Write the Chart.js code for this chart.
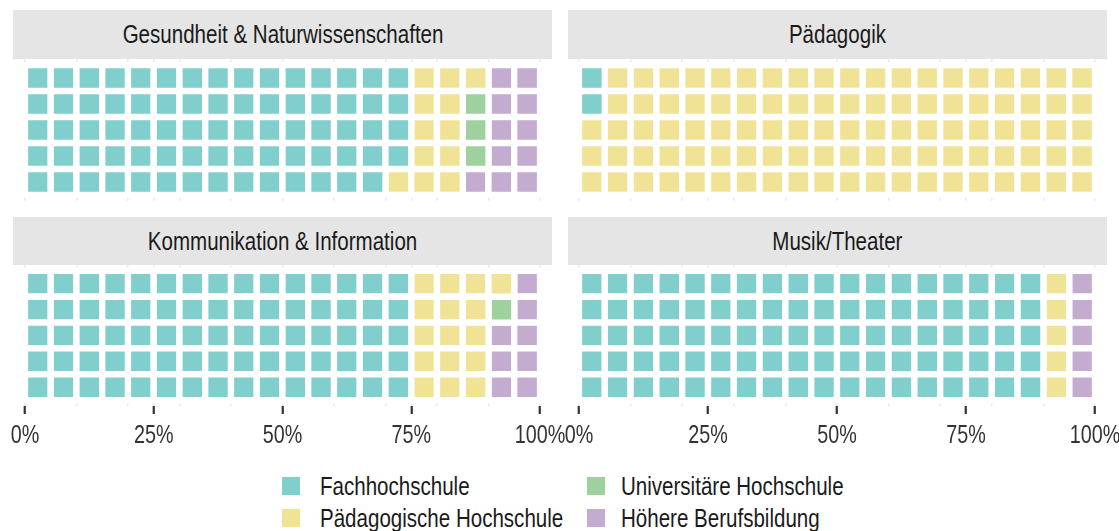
<!DOCTYPE html>
<html>
<head>
<meta charset="utf-8">
<script src="https://cdn.jsdelivr.net/npm/chart.js@4.4.0/dist/chart.umd.min.js"></script>
<style>
body { margin:0; background:#fff; width:1119px; height:531px; position:relative; overflow:hidden;
       font-family:"Liberation Sans Narrow","Liberation Sans",Arial,sans-serif; }
.strip { position:absolute; background:#e5e5e5; color:#1a1a1a; font-size:26px; text-align:center; }
.strip span { display:inline-block; transform:scaleX(0.79); transform-origin:center; }
canvas { position:absolute; }
.key { position:absolute; width:18px; height:18px; }
.lab { position:absolute; font-size:26px; color:#1a1a1a; line-height:18px; white-space:nowrap;
       transform:scaleX(0.79); transform-origin:left center; }
</style>
</head>
<body>
<script>
// data
var panels = ['Gesundheit & Naturwissenschaften', 'Pädagogik', 'Kommunikation & Information', 'Musik/Theater'];
var categories = ['Fachhochschule', 'Pädagogische Hochschule', 'Universitäre Hochschule', 'Höhere Berufsbildung'];
var fachhochschule = [74, 2, 75, 90];
var paedHochschule = [12, 98, 16, 5];
var uniHochschule = [3, 0, 1, 0];
var hoehereBB = [11, 0, 8, 5];
var tickLabels = ['0%', '25%', '50%', '75%', '100%'];
var colors = ['#80cfcc', '#f1e396', '#9ed19e', '#c4acd0'];

var nRows = 5, nCols = 20;

// panel boxes (chart area) and strips
var boxes = [
    {left: 25, right: 540.7, top: 58.7, bottom: 201, strip: 10.3, axis: false},
    {left: 579.3, right: 1095.3, top: 58.7, bottom: 201, strip: 10.3, axis: false},
    {left: 25, right: 540.7, top: 265.3, bottom: 406.7, strip: 217, axis: true},
    {left: 579.3, right: 1095.3, top: 265.3, bottom: 406.7, strip: 217, axis: true}
];

// the figure's text is condensed: squeeze canvas text horizontally
var squash = {
    id: 'squash',
    beforeInit: function(chart){
        var ctx = chart.ctx, fill = ctx.fillText;
        ctx.fillText = function(s, x, y){
            ctx.save();
            ctx.translate(x, y);
            ctx.scale(0.76, 1);
            fill.call(ctx, s, 0, 0);
            ctx.restore();
        };
    }
};

function cells(p){
    var counts = [fachhochschule[p], paedHochschule[p], uniHochschule[p], hoehereBB[p]];
    var sets = [];
    var k = 0;
    for (var c = 0; c < counts.length; c++){
        var pts = [];
        for (var n = 0; n < counts[c]; n++){
            pts.push({x: Math.floor(k / nRows) + 0.5, y: (k % nRows) + 1});
            k++;
        }
        sets.push({
            label: categories[c],
            data: pts,
            pointStyle: 'rect',
            pointRadius: 18.25,
            backgroundColor: colors[c],
            borderColor: '#ffffff',
            borderWidth: 6.3,
            clip: false
        });
    }
    return sets;
}

function gridOn(ctx){
    var v = ctx.tick ? ctx.tick.value : -1;
    return (v % 2 === 0 || v % 5 === 0) ? '#ebebeb' : 'rgba(0,0,0,0)';
}

function waffle(p){
    var b = boxes[p];
    var padL = 45, padR = 45, axisH = 46;
    var w = (b.right - b.left) + padL + padR;
    var h = (b.bottom - b.top) + (b.axis ? axisH : 0);

    var strip = document.createElement('div');
    strip.className = 'strip';
    strip.style.left = (b.left - 11.7) + 'px';
    strip.style.width = (b.right - b.left + 23.4) + 'px';
    strip.style.top = b.strip + 'px';
    strip.style.height = (b.top - b.strip) + 'px';
    strip.style.lineHeight = (b.top - b.strip) + 'px';
    var sp = document.createElement('span');
    sp.textContent = panels[p];
    strip.appendChild(sp);
    document.body.appendChild(strip);

    var cv = document.createElement('canvas');
    cv.width = w; cv.height = h;
    cv.style.left = (b.left - padL) + 'px';
    cv.style.top = b.top + 'px';
    document.body.appendChild(cv);

    new Chart(cv, {
        type: 'scatter',
        data: { datasets: cells(p) },
        plugins: [squash],
        options: {
            responsive: false,
            animation: false,
            events: [],
            layout: { autoPadding: false, padding: { left: padL, right: padR, top: 0, bottom: 0 } },
            plugins: { legend: { display: false }, tooltip: { enabled: false } },
            scales: {
                x: {
                    type: 'linear', min: 0, max: nCols,
                    border: { display: false },
                    grid: {
                        color: gridOn,
                        lineWidth: 1.5,
                        drawTicks: b.axis,
                        tickLength: 8,
                        tickWidth: 2.2,
                        tickColor: function(ctx){ return ctx.tick && ctx.tick.value % 5 === 0 ? '#333333' : 'rgba(0,0,0,0)'; }
                    },
                    ticks: {
                        display: b.axis,
                        stepSize: 1,
                        autoSkip: false,
                        maxRotation: 0, minRotation: 0,
                        padding: 6,
                        color: '#333333',
                        font: { family: '"Liberation Sans",Arial,sans-serif', size: 26 },
                        callback: function(v){ return v % 5 === 0 ? tickLabels[v / 5] : ''; }
                    },
                    afterFit: function(scale){ scale.height = b.axis ? axisH : 0; }
                },
                y: {
                    type: 'linear', reverse: true, min: 0.27, max: nRows + 0.73,
                    display: false
                }
            }
        }
    });
}

for (var p = 0; p < panels.length; p++) waffle(p);

// legend
var keyX = [281.7, 586.5], keyY = [477.3, 509.3], textX = [320, 621];
for (var i = 0; i < categories.length; i++){
    var col = Math.floor(i / 2), row = i % 2;
    var k = document.createElement('div');
    k.className = 'key';
    k.style.left = keyX[col] + 'px';
    k.style.top = keyY[row] + 'px';
    k.style.background = colors[i];
    document.body.appendChild(k);
    var t = document.createElement('div');
    t.className = 'lab';
    t.style.left = textX[col] + 'px';
    t.style.top = keyY[row] + 'px';
    t.textContent = categories[i];
    document.body.appendChild(t);
}
</script>
</body>
</html>
